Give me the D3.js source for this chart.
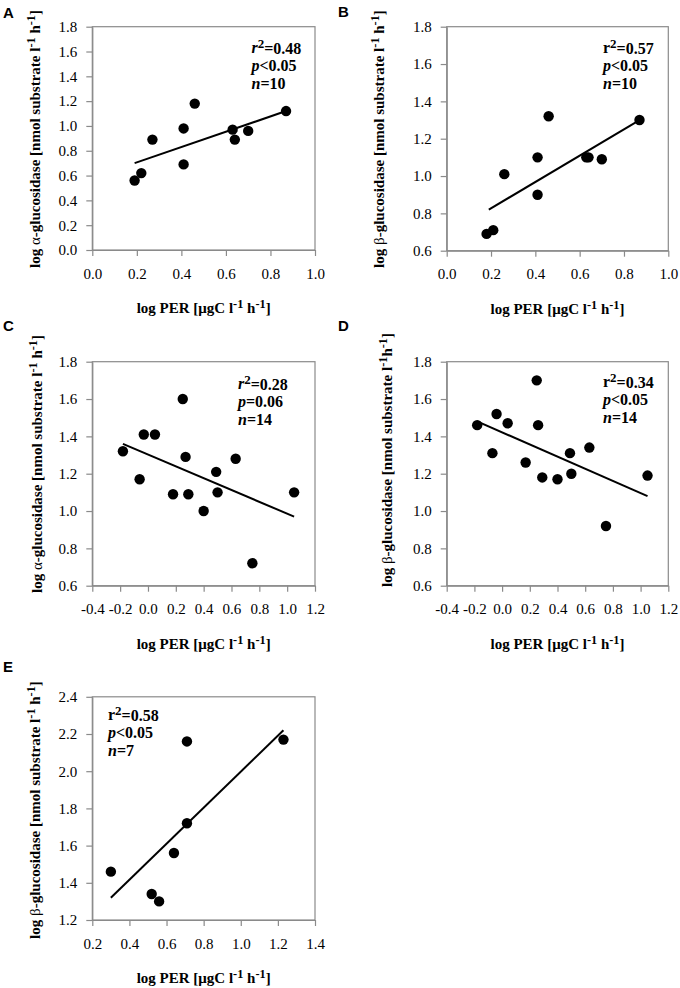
<!DOCTYPE html>
<html>
<head>
<meta charset="utf-8">
<script src="https://cdn.jsdelivr.net/npm/d3@7"></script>
<style>
  body { margin: 0; background: #fff; }
  svg { display: block; }
</style>
</head>
<body>
<div id="chart"></div>
<script>
// panel A: log PER vs log alpha-glucosidase
const perA = [0.19, 0.22, 0.27, 0.41, 0.41, 0.46, 0.63, 0.64, 0.70, 0.87];
const enzA = [0.56, 0.62, 0.89, 0.98, 0.69, 1.18, 0.97, 0.89, 0.96, 1.12];
const fitA = [[0.19, 0.70], [0.87, 1.12]];
const statsA = ["0.48", "<0.05", "10"];

// panel B: log PER vs log beta-glucosidase
const perB = [0.18, 0.21, 0.26, 0.41, 0.41, 0.46, 0.63, 0.64, 0.70, 0.87];
const enzB = [0.69, 0.71, 1.01, 1.10, 0.90, 1.32, 1.10, 1.10, 1.09, 1.30];
const fitB = [[0.19, 0.82], [0.87, 1.30]];
const statsB = ["0.57", "<0.05", "10"];

// panel C
const perC = [-0.18, -0.06, -0.03, 0.05, 0.18, 0.25, 0.27, 0.29, 0.40, 0.49, 0.50, 0.63, 0.75, 1.05];
const enzC = [1.32, 1.17, 1.41, 1.41, 1.09, 1.60, 1.29, 1.09, 1.00, 1.21, 1.10, 1.28, 0.72, 1.10];
const fitC = [[-0.18, 1.36], [1.05, 0.97]];
const statsC = ["0.28", "=0.06", "14"];

// panel D
const perD = [-0.18, -0.07, -0.04, 0.04, 0.17, 0.25, 0.26, 0.29, 0.40, 0.49, 0.50, 0.63, 0.75, 1.05];
const enzD = [1.46, 1.31, 1.52, 1.47, 1.26, 1.70, 1.46, 1.18, 1.17, 1.31, 1.20, 1.34, 0.92, 1.19];
const fitD = [[-0.18, 1.48], [1.05, 1.08]];
const statsD = ["0.34", "<0.05", "14"];

// panel E
const perE = [0.30, 0.52, 0.56, 0.64, 0.71, 0.71, 1.23];
const enzE = [1.46, 1.34, 1.30, 1.56, 1.72, 2.16, 2.17];
const fitE = [[0.30, 1.32], [1.23, 2.22]];
const statsE = ["0.58", "<0.05", "7"];

// tick values
const xTicksAB = [0.0, 0.2, 0.4, 0.6, 0.8, 1.0];
const xTicksCD = [-0.4, -0.2, 0.0, 0.2, 0.4, 0.6, 0.8, 1.0, 1.2];
const xTicksE = [0.2, 0.4, 0.6, 0.8, 1.0, 1.2, 1.4];
const yTicksA = [0.0, 0.2, 0.4, 0.6, 0.8, 1.0, 1.2, 1.4, 1.6, 1.8];
const yTicksBCD = [0.6, 0.8, 1.0, 1.2, 1.4, 1.6, 1.8];
const yTicksE = [1.2, 1.4, 1.6, 1.8, 2.0, 2.2, 2.4];

const SERIF = "'Liberation Serif', 'Times New Roman', serif";
const SANS = "'Liberation Sans', Arial, sans-serif";
const FRAME = "#8a8a8a";

const width = 680;
const height = 988;

const svg = d3.select("#chart")
  .append("svg")
  .attr("width", width)
  .attr("height", height)
  .attr("viewBox", `0 0 ${width} ${height}`);

svg.append("rect").attr("width", width).attr("height", height).attr("fill", "#fff");

function addSup(textSel, parts) {
  // parts: [text, isSup, weight?]
  let raised = false;
  parts.forEach(([t, sup, weight]) => {
    const ts = textSel.append("tspan").text(t);
    if (sup && !raised) {
      ts.attr("dy", "-0.42em").attr("font-size", "0.82em");
      raised = true;
    } else if (!sup && raised) {
      ts.attr("dy", "0.345em");
      raised = false;
    } else if (sup) {
      ts.attr("font-size", "0.82em");
    }
    if (weight) ts.attr("font-weight", weight);
  });
}

function renderPanel(cfg) {
  const x = d3.scaleLinear()
    .domain(d3.extent(cfg.xTicks))
    .range([cfg.left, cfg.right]);
  const y = d3.scaleLinear()
    .domain(d3.extent(cfg.yTicks))
    .range([cfg.bottom, cfg.top]);

  const g = svg.append("g").attr("class", "panel");

  g.append("rect")
    .attr("x", cfg.left)
    .attr("y", cfg.top)
    .attr("width", cfg.right - cfg.left)
    .attr("height", cfg.bottom - cfg.top)
    .attr("fill", "none")
    .attr("stroke", FRAME)
    .attr("stroke-width", 1.2);

  const fmt = (d) => d.toFixed(1);

  const xAxis = g.append("g")
    .attr("transform", `translate(0,${cfg.bottom})`)
    .call(d3.axisBottom(x).tickValues(cfg.xTicks).tickSize(6).tickSizeOuter(0).tickPadding(12).tickFormat(fmt));

  const yAxis = g.append("g")
    .attr("transform", `translate(${cfg.left},0)`)
    .call(d3.axisLeft(y).tickValues(cfg.yTicks).tickSize(6).tickSizeOuter(0).tickPadding(9).tickFormat(fmt));

  [xAxis, yAxis].forEach((ax) => {
    ax.attr("font-family", SERIF).attr("font-size", 15);
    ax.select(".domain").attr("stroke", FRAME).attr("stroke-width", 1.2);
    ax.selectAll(".tick line").attr("stroke", FRAME).attr("stroke-width", 1.2);
    ax.selectAll(".tick text").attr("fill", "#000");
  });

  // regression line
  g.append("path")
    .datum(cfg.fit)
    .attr("fill", "none")
    .attr("stroke", "#000")
    .attr("stroke-width", 2)
    .attr("d", d3.line().x((d) => x(d[0])).y((d) => y(d[1])));

  // points
  g.selectAll("circle.pt")
    .data(cfg.xs.map((v, i) => [v, cfg.ys[i]]))
    .join("circle")
    .attr("class", "pt")
    .attr("cx", (d) => x(d[0]))
    .attr("cy", (d) => y(d[1]))
    .attr("r", 5.2)
    .attr("fill", "#000");

  // stats block
  const st = g.append("g")
    .attr("font-family", SERIF)
    .attr("font-size", 16)
    .attr("font-weight", "bold");
  const [r2, p, n] = cfg.stats;
  const l1 = st.append("text").attr("x", cfg.statsX).attr("y", cfg.statsY);
  l1.append("tspan").text("r").attr("font-style", cfg.italicR ? "italic" : "normal");
  l1.append("tspan").text("2").attr("dy", "-0.42em").attr("font-size", 13);
  l1.append("tspan").text("=" + r2).attr("dy", "0.42em");
  const l2 = st.append("text").attr("x", cfg.statsX).attr("y", cfg.statsY + 18);
  l2.append("tspan").text("p").attr("font-style", "italic");
  l2.append("tspan").text(p);
  const l3 = st.append("text").attr("x", cfg.statsX).attr("y", cfg.statsY + 36);
  l3.append("tspan").text("n").attr("font-style", "italic");
  l3.append("tspan").text("=" + n);

  // x axis title
  const xt = g.append("text")
    .attr("x", (cfg.left + cfg.right) / 2)
    .attr("y", cfg.bottom + 63)
    .attr("text-anchor", "middle")
    .attr("font-family", SERIF)
    .attr("font-size", 15)
    .attr("font-weight", "bold");
  addSup(xt, [["log PER [μgC l", false], ["-1", true], [" h", false], ["-1", true], ["]", false]]);

  // y axis title
  const yt = g.append("text")
    .attr("transform", `translate(${cfg.yTitleX},${cfg.yTitleY}) rotate(-90)`)
    .attr("text-anchor", "middle")
    .attr("font-family", SERIF)
    .attr("font-size", 15)
    .attr("font-weight", "bold");
  addSup(yt, [
    ["log ", false],
    [cfg.greek, false, "normal"],
    ["-glucosidase [nmol substrate l", false],
    ["-1", true],
    [cfg.tight ? "h" : " h", false],
    ["-1", true],
    ["]", false]
  ]);

  // panel letter
  svg.append("text")
    .attr("x", cfg.letterX)
    .attr("y", cfg.letterY)
    .attr("font-family", SANS)
    .attr("font-size", 15)
    .attr("font-weight", "bold")
    .text(cfg.letter);
}

renderPanel({
  letter: "A", letterX: 3, letterY: 18,
  xs: perA, ys: enzA, fit: fitA, stats: statsA, italicR: true,
  xTicks: xTicksAB, yTicks: yTicksA, greek: "α",
  left: 92.3, right: 315, top: 26.7, bottom: 250,
  statsX: 251.5, statsY: 53,
  yTitleX: 40, yTitleY: 139
});

renderPanel({
  letter: "B", letterX: 338, letterY: 17,
  xs: perB, ys: enzB, fit: fitB, stats: statsB, italicR: false,
  xTicks: xTicksAB, yTicks: yTicksBCD, greek: "β",
  left: 446.7, right: 668.3, top: 26.7, bottom: 250.7,
  statsX: 603, statsY: 53,
  yTitleX: 384, yTitleY: 139
});

renderPanel({
  letter: "C", letterX: 3, letterY: 331,
  xs: perC, ys: enzC, fit: fitC, stats: statsC, italicR: true,
  xTicks: xTicksCD, yTicks: yTicksBCD, greek: "α",
  left: 92.3, right: 315, top: 361.7, bottom: 585.7,
  statsX: 238, statsY: 389,
  yTitleX: 42, yTitleY: 464
});

renderPanel({
  letter: "D", letterX: 338, letterY: 331,
  xs: perD, ys: enzD, fit: fitD, stats: statsD, italicR: false,
  xTicks: xTicksCD, yTicks: yTicksBCD, greek: "β", tight: true,
  left: 446.7, right: 668.3, top: 361.7, bottom: 585.7,
  statsX: 603, statsY: 387,
  yTitleX: 392, yTitleY: 460
});

renderPanel({
  letter: "E", letterX: 3, letterY: 672,
  xs: perE, ys: enzE, fit: fitE, stats: statsE, italicR: false,
  xTicks: xTicksE, yTicks: yTicksE, greek: "β",
  left: 92.3, right: 315, top: 696.8, bottom: 920,
  statsX: 108, statsY: 720,
  yTitleX: 40, yTitleY: 810
});
</script>
</body>
</html>
